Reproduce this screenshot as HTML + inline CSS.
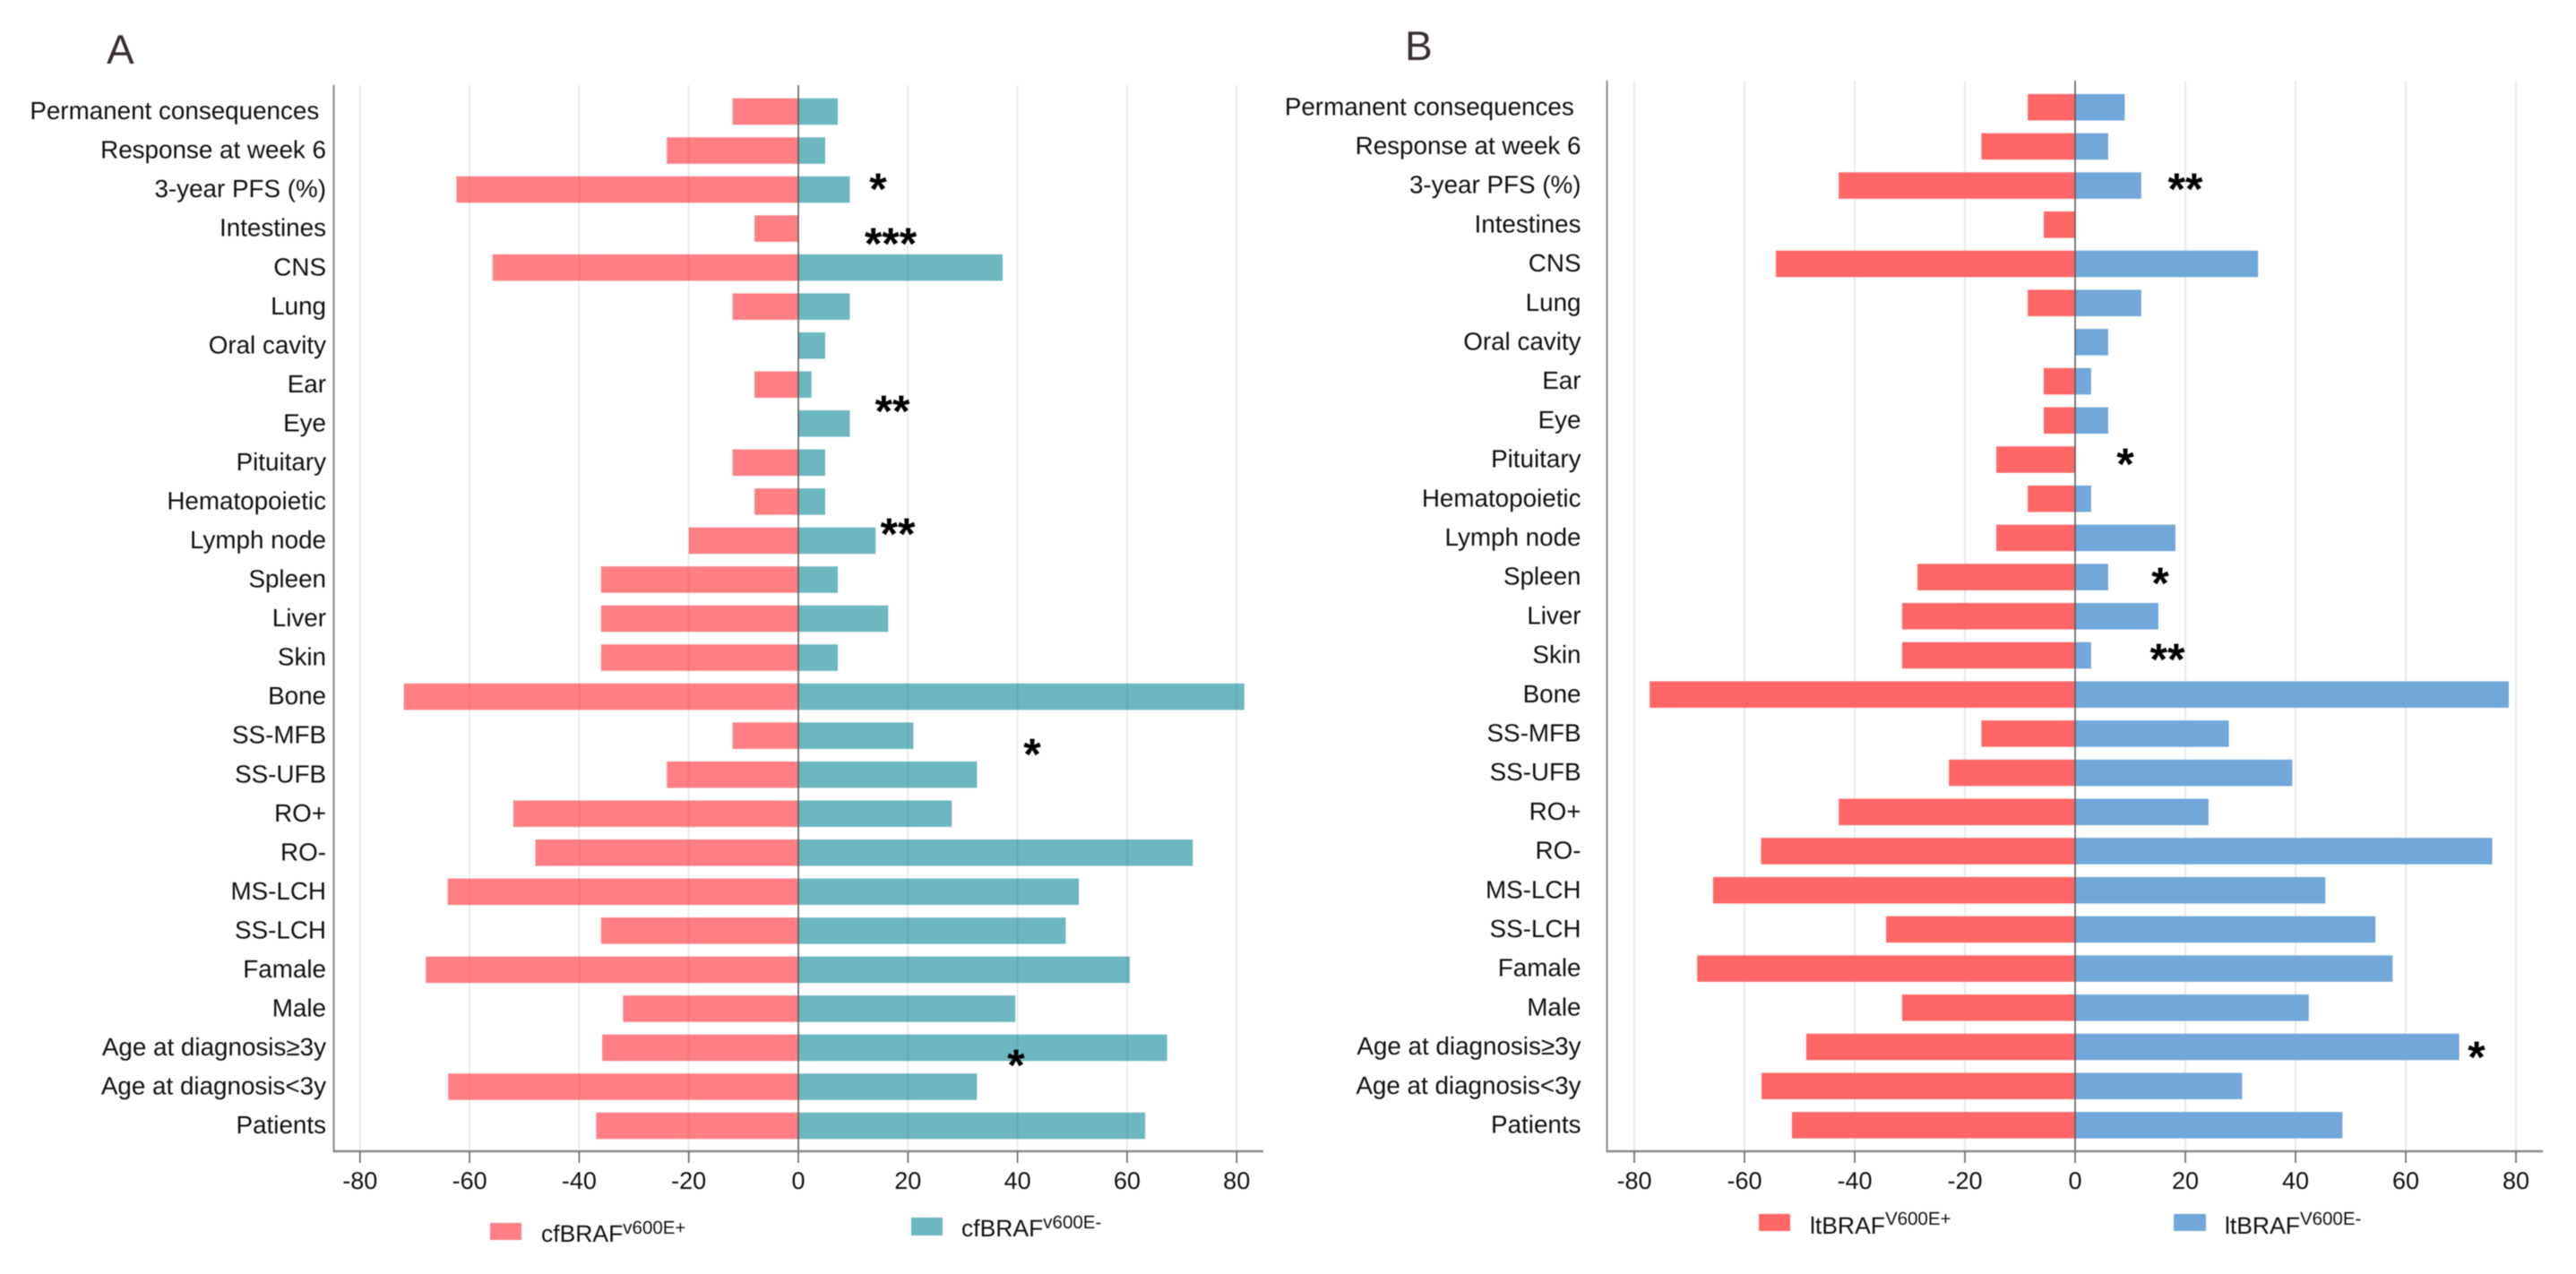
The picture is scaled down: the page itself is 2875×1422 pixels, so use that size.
<!DOCTYPE html>
<html lang="en">
<head>
<meta charset="utf-8">
<title>BRAF V600E comparison charts</title>
<style>
html,body{margin:0;padding:0;background:#fff;width:2875px;height:1422px;overflow:hidden}
svg{display:block;filter:blur(.6px)}
text{font-family:"Liberation Sans",Arial,sans-serif;fill:#111;text-rendering:geometricPrecision}
.star{font-weight:700;font-size:50px;fill:#000;text-anchor:middle}
.title{font-size:46px;fill:#3a2f30}
.legend{font-size:26.5px}
.sup{font-size:20.5px}
</style>
</head>
<body>
<svg id="figure" xmlns="http://www.w3.org/2000/svg" width="2875" height="1422" viewBox="0 0 2875 1422">
  <rect x="0" y="0" width="2875" height="1422" fill="#fff"/>
  <g id="panel-a"></g>
  <g id="panel-b"></g>

  <text class="title" x="119" y="71">A</text>
  <text class="title" x="1568" y="67" style="font-size:46px">B</text>

  <g>
    <rect x="547" y="1365" width="35" height="19" fill="#ff7f85"/>
    <text class="legend" x="604" y="1386">cfBRAF<tspan class="sup" dy="-9">v600E+</tspan></text>
    <rect x="1017" y="1359" width="35" height="20" fill="#6db7bf"/>
    <text class="legend" x="1073" y="1380">cfBRAF<tspan class="sup" dy="-9">v600E-</tspan></text>
  </g>
  <g>
    <rect x="1963" y="1355" width="35" height="19" fill="#ff6666"/>
    <text class="legend" x="2020" y="1377">ltBRAF<tspan class="sup" dy="-10">V600E+</tspan></text>
    <rect x="2426" y="1355" width="36" height="19" fill="#72a7d9"/>
    <text class="legend" x="2483" y="1377">ltBRAF<tspan class="sup" dy="-10">V600E-</tspan></text>
  </g>

  <g>
    <text class="star" x="980" y="228">*</text>
    <text class="star" x="994" y="289">***</text>
    <text class="star" x="996" y="476">**</text>
    <text class="star" x="1002" y="613">**</text>
    <text class="star" x="1152" y="859">*</text>
    <text class="star" x="1134" y="1206">*</text>
  </g>
  <g>
    <text class="star" x="2439" y="228">**</text>
    <text class="star" x="2372" y="535">*</text>
    <text class="star" x="2411" y="668">*</text>
    <text class="star" x="2419" y="753">**</text>
    <text class="star" x="2764" y="1197">*</text>
  </g>
</svg>
<script>
const categories = ["Permanent consequences\u00a0","Response at week 6","3-year PFS (%)","Intestines","CNS","Lung","Oral cavity","Ear","Eye","Pituitary","Hematopoietic","Lymph node","Spleen","Liver","Skin","Bone","SS-MFB","SS-UFB","RO+","RO-","MS-LCH","SS-LCH","Famale","Male","Age at diagnosis\u22653y","Age at diagnosis<3y","Patients"];
const tickValues = [-80,-60,-40,-20,0,20,40,60,80];
const cfPositive = [12,24,62.4,8,55.8,12,0,8,0,12,8,20,36,36,36,72,12,24,52,48,64,36,68,32,35.8,63.9,36.9];
const cfNegative = [7.2,4.9,9.4,0,37.3,9.4,4.9,2.4,9.4,4.9,4.9,14.1,7.2,16.4,7.2,81.4,21,32.6,28,72,51.2,48.8,60.5,39.6,67.3,32.6,63.3];
const ltPositive = [8.6,17,42.9,5.7,54.3,8.6,0,5.7,5.7,14.3,8.6,14.3,28.6,31.4,31.4,77.2,17,22.9,42.9,57,65.7,34.3,68.6,31.4,48.8,56.9,51.4];
const ltNegative = [9,6,12,0,33.2,12,6,2.9,6,0,2.9,18.2,6,15.1,2.9,78.7,27.9,39.4,24.2,75.7,45.4,54.5,57.6,42.4,69.7,30.3,48.5];

const NS = 'http://www.w3.org/2000/svg';

function make(tag, parent, attrs) {
  const el = document.createElementNS(NS, tag);
  for (const k in attrs) el.setAttribute(k, attrs[k]);
  parent.appendChild(el);
  return el;
}

function slug(s) {
  return s.trim().toLowerCase().replace(/\u2265/g, '-ge-').replace(/</g, '-lt-').replace(/\+/g, '-plus').replace(/[^a-z0-9]+/g, '-').replace(/-+$/, '');
}

function drawPanel(opts) {
  const root = document.getElementById(opts.id);
  const xScale = v => opts.zeroX + v * opts.pxPerUnit;
  const yScale = i => opts.firstRowY + i * opts.rowStep;

  function drawGrid() {
    tickValues.forEach(t => {
      if (t === 0) return;
      const el = make('line', root, {x1: xScale(t), x2: xScale(t), y1: opts.top, y2: opts.bottom, stroke: opts.gridColor, 'stroke-width': 2});
      
      
    });
  }

  if (!opts.gridOnTop) drawGrid();

  categories.forEach((c, i) => {
    const y = yScale(i);
    const left = opts.positive[i];
    const right = opts.negative[i];
    if (left > 0) {
      const bar = make('rect', root, {x: xScale(-left), y: y - opts.barHeight / 2, width: xScale(0) - xScale(-left), height: opts.barHeight, fill: opts.positiveColor});
      
      
    }
    if (right > 0) {
      const bar = make('rect', root, {x: xScale(0), y: y - opts.barHeight / 2, width: xScale(right) - xScale(0), height: opts.barHeight, fill: opts.negativeColor});
      
      
    }
    const label = make('text', root, {x: opts.labelX, y: y + 8.6, 'text-anchor': 'end', 'font-size': 27.8});
    label.textContent = c;
    
    
  });

  if (opts.gridOnTop) drawGrid();

  const zero = make('line', root, {x1: xScale(0), x2: xScale(0), y1: opts.top, y2: opts.bottom, stroke: '#5c5c5c', 'stroke-width': 1.6});
  
  

  const yAxis = make('line', root, {x1: opts.axisLeft, x2: opts.axisLeft, y1: opts.top, y2: opts.bottom, stroke: '#8a8a8a', 'stroke-width': 2});
  
  

  const xAxis = make('line', root, {x1: opts.axisLeft - 1, x2: opts.axisRight, y1: opts.bottom, y2: opts.bottom, stroke: '#8a8a8a', 'stroke-width': 2.4});
  
  

  tickValues.forEach(t => {
    const tick = make('line', root, {x1: xScale(t), x2: xScale(t), y1: opts.bottom, y2: opts.bottom + 13, stroke: '#666', 'stroke-width': 1.6});
    
    
    const label = make('text', root, {x: xScale(t), y: opts.bottom + 42, 'text-anchor': 'middle', 'font-size': 27});
    label.textContent = String(t);
    
    
  });
}

drawPanel({
  id: 'panel-a', positive: cfPositive, negative: cfNegative,
  positiveColor: '#ff7f85', negativeColor: '#6db7bf',
  zeroX: 891, pxPerUnit: 6.115, firstRowY: 124.5, rowStep: 43.54, barHeight: 29.5,
  top: 95, bottom: 1285, axisLeft: 372.5, axisRight: 1410, labelX: 364,
  gridColor: 'rgba(40,70,80,.10)', gridOnTop: true
});

drawPanel({
  id: 'panel-b', positive: ltPositive, negative: ltNegative,
  positiveColor: '#ff6666', negativeColor: '#72a7d9',
  zeroX: 2316, pxPerUnit: 6.15, firstRowY: 119.7, rowStep: 43.7, barHeight: 29.5,
  top: 90, bottom: 1285, axisLeft: 1793.5, axisRight: 2838, labelX: 1764.5,
  gridColor: '#e9e9e9', gridOnTop: false
});
</script>
</body>
</html>
